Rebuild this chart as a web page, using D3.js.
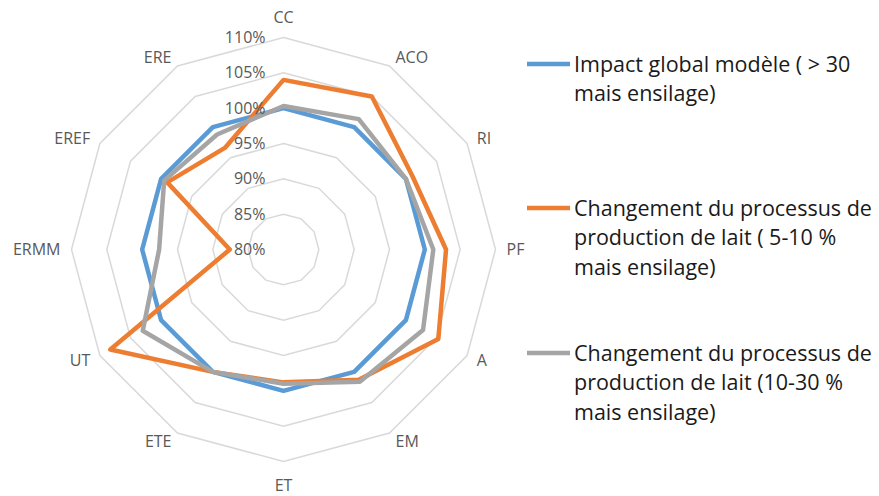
<!DOCTYPE html>
<html>
<head>
<meta charset="utf-8">
<script src="https://cdn.jsdelivr.net/npm/d3@7"></script>
<style>
  html, body { margin: 0; padding: 0; background: #fff; }
  svg { display: block; }
</style>
</head>
<body>
<svg id="chart" width="879" height="496"></svg>
<script>
const categories = ["CC","ACO","RI","PF","A","EM","ET","ETE","UT","ERMM","EREF","ERE"];
const seriesNames = [
  ["Impact global modèle ( > 30", "mais ensilage)"],
  ["Changement du processus de", "production de lait ( 5-10 %", "mais ensilage)"],
  ["Changement du processus de", "production de lait (10-30 %", "mais ensilage)"]
];
const impactGlobal = [100,100,100,100,100,100,100,100,100,100,100,100];
const changement5_10 = [104,105,101,103,105.3,101.3,98.8,100,108.3,87.6,99,96.6];
const changement10_30 = [100.3,101.3,100,101.2,102.8,101.6,99,100,103,97.6,99.5,98.8];
const tickValues = [80,85,90,95,100,105,110];
const colors = ["#5B9BD5","#ED7D31","#A5A5A5"];

const svg = d3.select("#chart");
const cx = 283.5, cy = 249.5, R = 212;
const font = "'Open Sans', 'Liberation Sans', sans-serif";

const r = d3.scaleLinear().domain([80,110]).range([0,R]);
const ang = d3.scalePoint().domain(categories).range([0, 2*Math.PI*(categories.length-1)/categories.length]);
const px = (c, v) => cx + r(v)*Math.sin(ang(c));
const py = (c, v) => cy - r(v)*Math.cos(ang(c));

const g = svg.append("g");

// grid rings
tickValues.filter(t => t > 80).forEach(t => {
  g.append("polygon")
    .attr("points", categories.map(c => [px(c,t), py(c,t)].join(",")).join(" "))
    .attr("fill","none").attr("stroke","#D9D9D9").attr("stroke-width",1.5);
});

// series
const line = d3.lineRadial()
  .angle((d,i) => ang(categories[i]))
  .radius(d => r(d))
  .curve(d3.curveLinearClosed);
[impactGlobal, changement5_10, changement10_30].forEach((s,i) => {
  g.append("path")
    .attr("transform", `translate(${cx},${cy})`)
    .attr("d", line(s))
    .attr("fill","none")
    .attr("stroke", colors[i])
    .attr("stroke-width", 4.5)
    .attr("stroke-linejoin","round");
});

// tick labels
tickValues.forEach(t => {
  g.append("text")
    .attr("x", cx - 18).attr("y", cy - r(t))
    .attr("dy","0.35em")
    .attr("text-anchor","end")
    .attr("font-family", font).attr("font-size", 16)
    .attr("fill","#595959")
    .text(t + "%");
});

// category labels
const L = 222;
categories.forEach(c => {
  const a = ang(c);
  const s = Math.sin(a), co = Math.cos(a);
  const x = cx + L*s, y = cy - L*co;
  let anchor = Math.abs(s) < 0.01 ? "middle" : (s > 0 ? "start" : "end");
  let ty = y, dy = "0.35em";
  if (Math.abs(s) < 0.01) {
    if (co > 0) { ty = y - 5; dy = "0"; } else { ty = y + 19; dy = "0"; }
  }
  g.append("text")
    .attr("x", x + (anchor==="start"?1:anchor==="end"?-1:0)).attr("y", ty)
    .attr("dy", dy)
    .attr("text-anchor", anchor)
    .attr("font-family", font).attr("font-size", 16)
    .attr("fill","#595959")
    .text(c);
});

// legend
const legendY = [64, 208, 353];
seriesNames.forEach((lines, i) => {
  const y0 = legendY[i];
  svg.append("line")
    .attr("x1", 527).attr("x2", 570)
    .attr("y1", y0).attr("y2", y0)
    .attr("stroke", colors[i]).attr("stroke-width", 4.5);
  const t = svg.append("text")
    .attr("font-family", font).attr("font-size", 21.5)
    .attr("fill","#1a1a1a");
  lines.forEach((ln, j) => {
    t.append("tspan").attr("x", 574).attr("y", y0 + j*29.5).attr("dy","0.35em").text(ln);
  });
});
</script>
</body>
</html>
